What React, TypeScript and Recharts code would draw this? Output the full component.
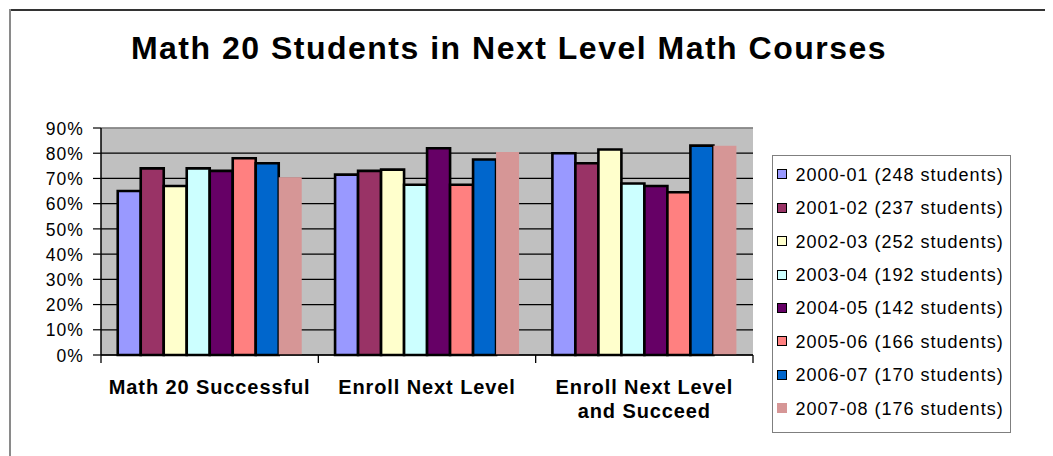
import React from 'react';
import { BarChart, Bar, XAxis, YAxis, CartesianGrid, ReferenceLine } from 'recharts';

const categories = ['Math 20 Successful', 'Enroll Next Level', 'Enroll Next Level\nand Succeed'];

const seriesNames = [
  '2000-01 (248 students)',
  '2001-02 (237 students)',
  '2002-03 (252 students)',
  '2003-04 (192 students)',
  '2004-05 (142 students)',
  '2005-06 (166 students)',
  '2006-07 (170 students)',
  '2007-08 (176 students)',
];

const seriesColors = ['#9999ff', '#993366', '#ffffcc', '#ccffff', '#660066', '#ff8080', '#0066cc', '#d69696'];
const seriesStrokes = ['#000', '#000', '#000', '#000', '#000', '#000', '#000', 'none'];

const v2000 = [65, 71.5, 80];
const v2001 = [74, 73, 76];
const v2002 = [67, 73.5, 81.5];
const v2003 = [74, 67.5, 68];
const v2004 = [73, 82, 67];
const v2005 = [78, 67.5, 64.5];
const v2006 = [76, 77.5, 83];
const v2007 = [70.5, 80.5, 83];

const seriesValues = [v2000, v2001, v2002, v2003, v2004, v2005, v2006, v2007];

const yTicks = [0, 10, 20, 30, 40, 50, 60, 70, 80, 90];

const data = categories.map((c, i) => {
  const row: Record<string, any> = { category: c };
  seriesValues.forEach((vals, s) => {
    row['s' + s] = vals[i];
  });
  return row;
});

const FONT = '"Liberation Sans", Arial, sans-serif';
const W = 1045;
const H = 448;
const MARGIN = { top: 120, right: 300, bottom: 41, left: 33 };
const YAXIS_W = 60;
const BAND = (W - MARGIN.left - MARGIN.right - YAXIS_W) / categories.length;

const XTick = (props: any) => {
  const { x, y, payload, index } = props;
  const half = payload && typeof payload.offset === 'number' && payload.offset > 0 ? payload.offset : BAND / 2;
  const lines = String(payload.value).split('\n');
  return (
    <g>
      <line x1={x - half} x2={x - half} y1={y - 8} y2={y} stroke="#000" strokeWidth={1.3} />
      {index === categories.length - 1 && (
        <line x1={x + half} x2={x + half} y1={y - 8} y2={y} stroke="#000" strokeWidth={1.3} />
      )}
      <text
        x={x}
        y={y + 30.5}
        textAnchor="middle"
        fontFamily={FONT}
        fontSize={20}
        fontWeight="bold"
        letterSpacing={0.9}
        fill="#000"
      >
        {lines.map((l, i) => (
          <tspan key={i} x={x} dy={i === 0 ? 0 : 24}>
            {l}
          </tspan>
        ))}
      </text>
    </g>
  );
};

const YTick = (props: any) => {
  const { x, y, payload } = props;
  return (
    <text
      x={x}
      y={y}
      dy="0.38em"
      textAnchor="end"
      fontFamily={FONT}
      fontSize={17.5}
      letterSpacing={1.1}
      fill="#000"
    >
      {payload.value}%
    </text>
  );
};

export default function App() {
  return (
    <div style={{ position: 'relative', width: W, height: H, background: '#fff' }}>
      <div style={{ position: 'absolute', left: 1, top: 1, width: W - 1, height: 2, background: '#333' }} />
      <div style={{ position: 'absolute', left: 1, top: 1, width: 1.5, height: H - 1, background: '#8a8a8a' }} />
      <div style={{ position: 'absolute', left: 1043, top: 3, width: 1, height: H - 3, background: '#e8e8e8' }} />
      <div
        style={{
          position: 'absolute',
          left: 0,
          top: 24,
          width: 1002,
          textAlign: 'center',
          fontFamily: FONT,
          fontWeight: 'bold',
          fontSize: 32,
          lineHeight: '32px',
          letterSpacing: 1.5,
          color: '#000',
          whiteSpace: 'nowrap',
        }}
      >
        Math 20 Students in Next Level Math Courses
      </div>
      <div style={{ position: 'absolute', left: 0, top: 0 }}>
        <BarChart width={W} height={H} data={data} margin={MARGIN} barGap={0} barCategoryGap="7.7%">
          <CartesianGrid vertical={false} horizontal={true} stroke="#000" strokeWidth={1.2} fill="#c0c0c0" fillOpacity={1} />
          <ReferenceLine y={90} stroke="#9a9a9a" strokeWidth={1.5} />
          <XAxis
            dataKey="category"
            tickLine={false}
            tickSize={8}
            tickMargin={0}
            height={60}
            interval={0}
            axisLine={{ stroke: '#000', strokeWidth: 1.5 }}
            tick={<XTick />}
          />
          <YAxis
            domain={[0, 90]}
            ticks={yTicks}
            interval={0}
            width={YAXIS_W}
            tickSize={8}
            tickMargin={9}
            axisLine={{ stroke: '#000', strokeWidth: 1.5 }}
            tickLine={{ stroke: '#000', strokeWidth: 1.2 }}
            tick={<YTick />}
          />
          <YAxis
            yAxisId="right"
            orientation="right"
            domain={[0, 90]}
            width={0}
            tick={false}
            tickLine={false}
            axisLine={{ stroke: '#9a9a9a', strokeWidth: 1.5 }}
          />
          {seriesNames.map((name, s) => (
            <Bar
              key={name}
              dataKey={'s' + s}
              name={name}
              fill={seriesColors[s]}
              stroke={seriesStrokes[s]}
              strokeWidth={2.6}
              isAnimationActive={false}
            />
          ))}
        </BarChart>
      </div>
      <div
        style={{
          position: 'absolute',
          left: 763.5,
          top: 147,
          width: 239,
          height: 278,
          boxSizing: 'border-box',
          border: '1.2px solid #7f7f7f',
          background: '#fff',
        }}
      >
        {seriesNames.map((name, s) => (
          <div
            key={name}
            style={{
              position: 'absolute',
              left: 0,
              top: 20 + 33.4 * s - 11 - 1.2,
              height: 22,
              width: 236,
              whiteSpace: 'nowrap',
            }}
          >
            <div
              style={{
                position: 'absolute',
                left: 4,
                top: 5.5,
                width: 10,
                height: 10,
                boxSizing: 'border-box',
                background: seriesColors[s],
                border: seriesStrokes[s] === 'none' ? 'none' : '1.5px solid #000',
              }}
            />
            <div
              style={{
                position: 'absolute',
                left: 23,
                top: 0,
                lineHeight: '22px',
                fontFamily: FONT,
                fontSize: 18,
                letterSpacing: 1,
                color: '#000',
              }}
            >
              {name}
            </div>
          </div>
        ))}
      </div>
    </div>
  );
}
